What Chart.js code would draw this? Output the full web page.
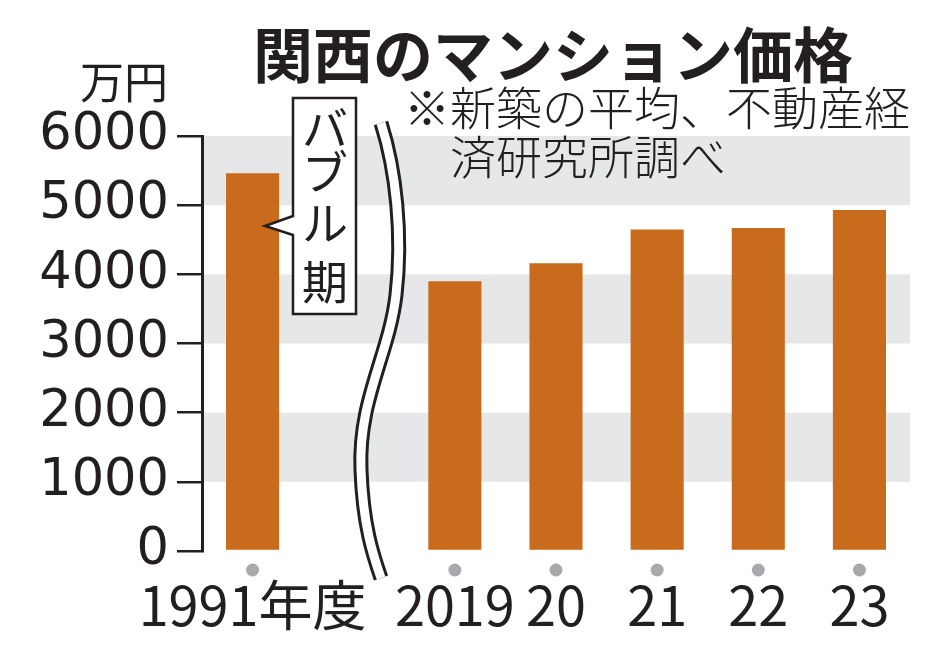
<!DOCTYPE html>
<html lang="ja">
<head>
<meta charset="utf-8">
<title>関西のマンション価格</title>
<script src="https://cdn.jsdelivr.net/npm/chart.js@4.4.1/dist/chart.umd.min.js"></script>
<style>
  html, body { margin: 0; padding: 0; background: #fff; }
  #wrap { width: 934px; height: 658px; }
</style>
</head>
<body>
<div id="wrap"><canvas id="priceChart" width="934" height="658"></canvas></div>
<script>
// data (万円)
const years = ['1991年度', '', '2019', '20', '21', '22', '23'];
const prices = [5460, null, 3900, 4160, 4650, 4670, 4930];
const yTicks = [0, 1000, 2000, 3000, 4000, 5000, 6000];

const titleText = '関西のマンション価格';
const unitText = '万円';
const noteLines = ['※新築の平均、不動産経', '済研究所調べ'];
const calloutChars = ['バ', 'ブ', 'ル', '期'];

const ink = '#231f20';
const barColor = '#c86b1c';
const bandColor = '#e6e7e8';
const dotColor = '#a7a9ac';
const jpFont = "'Noto Sans CJK JP', 'Noto Sans', sans-serif";

// gray bands on every other 1000 step
const bands = {
    id: 'bands',
    beforeDatasetsDraw(chart) {
        const { ctx, chartArea, scales: { y } } = chart;
        ctx.save();
        ctx.fillStyle = bandColor;
        for (let i = 1; i < yTicks.length; i += 2) {
            const top = y.getPixelForValue(yTicks[i + 1]);
            const bottom = y.getPixelForValue(yTicks[i]);
            ctx.fillRect(chartArea.left + 2, top, chartArea.right - chartArea.left - 2, bottom - top);
        }
        ctx.restore();
    }
};

// title, unit, note, callout, axis break, dots
const extras = {
    id: 'extras',
    afterDraw(chart) {
        const { ctx, chartArea, scales: { x } } = chart;
        ctx.save();

        // dots under the categories
        ctx.fillStyle = dotColor;
        years.forEach((label, i) => {
            if (!label) return;
            ctx.beginPath();
            ctx.arc(x.getPixelForValue(i), chartArea.bottom + 19, 6.5, 0, Math.PI * 2);
            ctx.fill();
        });

        // wavy break between 1991 and 2019
        ctx.beginPath();
        ctx.moveTo(381, 123);
        ctx.bezierCurveTo(396, 170, 403, 235, 396, 295);
        ctx.bezierCurveTo(389, 355, 358, 400, 361, 470);
        ctx.bezierCurveTo(363, 525, 373, 555, 381, 578);
        ctx.lineCap = 'butt';
        ctx.strokeStyle = ink;
        ctx.lineWidth = 15;
        ctx.stroke();
        ctx.strokeStyle = '#fff';
        ctx.lineWidth = 9;
        ctx.stroke();

        // callout box
        ctx.beginPath();
        ctx.moveTo(293, 98);
        ctx.lineTo(356, 98);
        ctx.lineTo(356, 314);
        ctx.lineTo(293, 314);
        ctx.lineTo(293, 235);
        ctx.lineTo(265, 226);
        ctx.lineTo(293, 216);
        ctx.closePath();
        ctx.fillStyle = '#fff';
        ctx.fill();
        ctx.strokeStyle = ink;
        ctx.lineWidth = 2.5;
        ctx.lineJoin = 'miter';
        ctx.stroke();

        ctx.fillStyle = ink;
        ctx.textAlign = 'center';
        ctx.textBaseline = 'middle';
        ctx.font = '46px ' + jpFont;
        const charY = [128, 172, 223, 282];
        calloutChars.forEach((c, i) => ctx.fillText(c, 325, charY[i]));

        // title
        ctx.font = 'bold 60px ' + jpFont;
        ctx.fillText(titleText, 553, 55);

        // unit
        ctx.textAlign = 'right';
        ctx.font = '44px ' + jpFont;
        ctx.fillText(unitText, 168, 82);

        // source note
        ctx.textAlign = 'left';
        ctx.font = '300 46px ' + jpFont;
        ctx.fillText(noteLines[0], 404, 108);
        ctx.fillText(noteLines[1], 450, 157);

        ctx.restore();
    }
};

new Chart(document.getElementById('priceChart'), {
    type: 'bar',
    data: {
        labels: years,
        datasets: [{
            data: prices,
            backgroundColor: barColor,
            borderWidth: 0,
            barPercentage: 0.525,
            categoryPercentage: 1
        }]
    },
    options: {
        responsive: false,
        animation: false,
        layout: { padding: { top: 136, right: 24, left: 0, bottom: 0 } },
        plugins: {
            legend: { display: false },
            tooltip: { enabled: false }
        },
        scales: {
            x: {
                offset: true,
                grid: { display: false, drawTicks: false },
                border: { display: false },
                ticks: {
                    autoSkip: false,
                    maxRotation: 0,
                    padding: 22,
                    color: ink,
                    font: { family: "'Liberation Sans Narrow', 'Noto Sans CJK JP', sans-serif", size: 54 }
                },
                afterFit(scale) { scale.height = 107; }
            },
            y: {
                min: 0,
                max: 6000,
                grid: {
                    drawOnChartArea: false,
                    drawTicks: true,
                    tickLength: 25,
                    color: ink,
                    lineWidth: 2.5
                },
                border: { display: true, color: ink, width: 3 },
                ticks: {
                    stepSize: 1000,
                    padding: 8,
                    color: ink,
                    font: { family: "'DejaVu Sans', sans-serif", size: 51 },
                    callback: (v) => String(v)
                },
                afterFit(scale) { scale.width = 202; }
            }
        }
    },
    plugins: [bands, extras]
});
</script>
</body>
</html>
